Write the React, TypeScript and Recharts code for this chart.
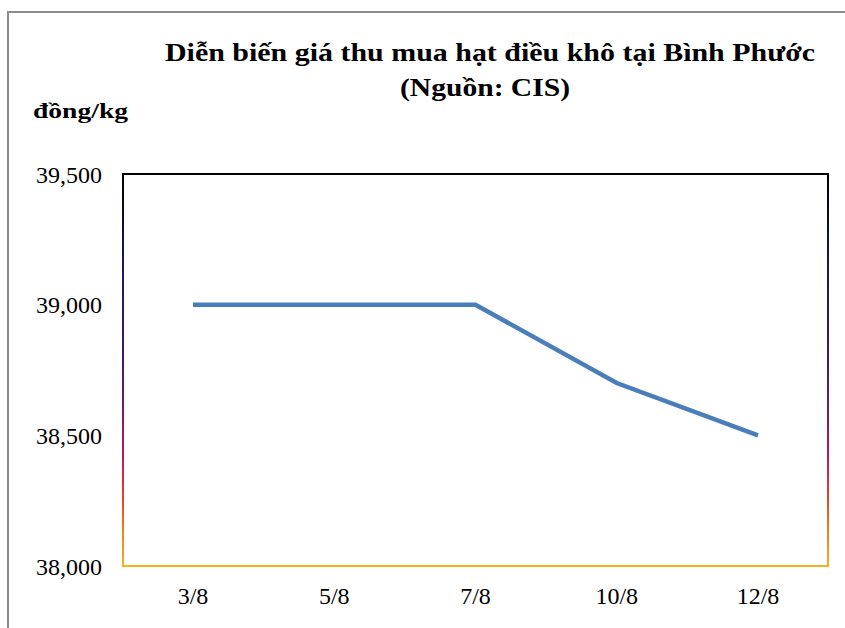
import { Customized, Line, LineChart, XAxis, YAxis } from "recharts";

const days = ["3/8", "5/8", "7/8", "10/8", "12/8"];
const prices = [39000, 39000, 39000, 38700, 38500];
const yTicks = [38000, 38500, 39000, 39500];

const data = days.map((day, i) => ({ day, price: prices[i] }));

const serif = "Liberation Serif, DejaVu Serif, Noto Serif, Times New Roman, serif";

const frameGradient =
  "linear-gradient(to bottom, #000000 0%, #1c1a66 25%, #3a1a6a 45%, #741a6c 60%, #bb1a5c 72%, #e2402e 82%, #f07a1c 90%, #f5b21e 100%)";

function Titles() {
  return (
    <g fontFamily={serif} fontWeight="bold" fill="#000">
      <text x={490} y={61} fontSize={25} textAnchor="middle" textLength={650} lengthAdjust="spacingAndGlyphs">
        Diễn biến giá thu mua hạt điều khô tại Bình Phước
      </text>
      <text x={485} y={96} fontSize={25} textAnchor="middle" textLength={170} lengthAdjust="spacingAndGlyphs">
        (Nguồn: CIS)
      </text>
      <text x={33} y={118} fontSize={22} textLength={95} lengthAdjust="spacingAndGlyphs">
        đồng/kg
      </text>
    </g>
  );
}

export default function App() {
  return (
    <div
      style={{
        position: "absolute",
        left: 0,
        top: 0,
        width: 845,
        height: 628,
        overflow: "hidden",
        background: "#fff",
      }}
    >
      <div
        style={{
          position: "absolute",
          left: 7,
          top: 11,
          width: 900,
          height: 700,
          border: "2px solid #8c8c8c",
        }}
      />
      <LineChart
        width={845}
        height={628}
        data={data}
        margin={{ top: 174, right: 17, bottom: 0, left: 0 }}
        style={{ position: "absolute", left: 0, top: 0 }}
      >
        <XAxis
          dataKey="day"
          height={62}
          axisLine={false}
          tickLine={false}
          tickMargin={15}
          padding={{ left: 70, right: 70 }}
          tick={{ fill: "#000", fontSize: 24, fontFamily: serif }}
        />
        <YAxis
          width={123}
          domain={[38000, 39500]}
          ticks={yTicks}
          axisLine={false}
          tickLine={false}
          tickMargin={15}
          tickFormatter={(v: number) => v.toLocaleString("en-US")}
          tick={{ fill: "#000", fontSize: 24, fontFamily: serif }}
        />
        <Line
          type="linear"
          dataKey="price"
          stroke="#4a7ebb"
          strokeWidth={4.5}
          dot={false}
          activeDot={false}
          isAnimationActive={false}
        />
        <Customized component={Titles} />
      </LineChart>
      {/* plot frame with the gradient edge */}
      <div
        style={{
          position: "absolute",
          left: 122,
          top: 173,
          width: 703,
          height: 390,
          borderStyle: "solid",
          borderWidth: 2,
          borderImage: `${frameGradient} 1`,
          pointerEvents: "none",
        }}
      />
    </div>
  );
}
